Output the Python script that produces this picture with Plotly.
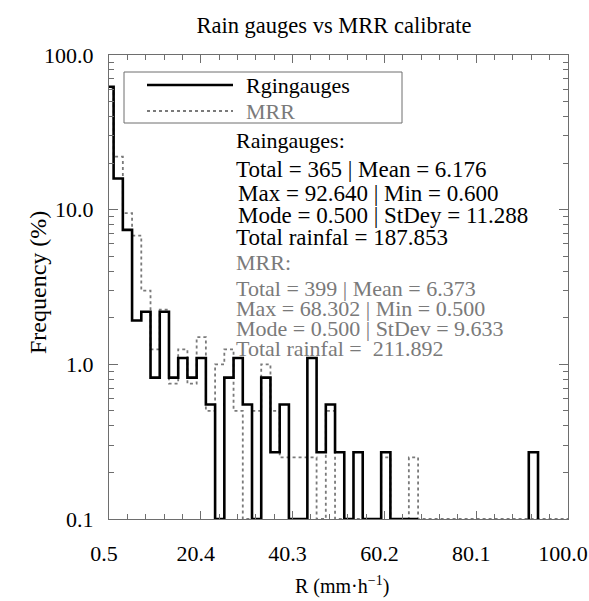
import numpy as np
import plotly.graph_objects as go

# Histogram bins: width 2 mm/h, centred on 0.5, 2.5, 4.5, ...
BIN_WIDTH = 2.0
bin_centers = [0.5 + 2.0 * k for k in range(51)]

# Frequency (%) per bin
raingauge_freq = [
    62.4, 15.9, 7.4, 1.92, 2.19, 0.82, 2.19, 0.82, 1.10, 0.82,
    1.10, 0.55, 0.0, 0.82, 1.10, 0.55, 0.0, 0.82, 0.27, 0.55,
    0.0, 0.0, 1.10, 0.27, 0.55, 0.27, 0.0, 0.27, 0.0, 0.0,
    0.27, 0.0, 0.0, 0.0, 0.0, 0.0, 0.0, 0.0, 0.0, 0.0,
    0.0, 0.0, 0.0, 0.0, 0.0, 0.0, 0.27, 0.0, 0.0, 0.0,
    0.0,
]
mrr_freq = [
    61.0, 22.0, 9.5, 6.8, 3.0, 1.25, 2.26, 0.75, 1.25, 0.75,
    1.50, 0.50, 1.00, 1.25, 0.50, 0.0, 0.50, 1.00, 0.50, 0.25,
    0.25, 0.25, 0.25, 0.0, 0.50, 0.0, 0.0, 0.0, 0.0, 0.0,
    0.25, 0.0, 0.0, 0.25, 0.0, 0.0, 0.0, 0.0, 0.0, 0.0,
    0.0, 0.0, 0.0, 0.0, 0.0, 0.0, 0.0, 0.0, 0.0, 0.0,
    0.0,
]

x_tick_vals = [0.5, 20.4, 40.3, 60.2, 80.1, 100.0]
x_tick_text = ["0.5", "20.4", "40.3", "60.2", "80.1", "100.0"]
y_tick_vals = [0.1, 1.0, 10.0, 100.0]
y_tick_text = ["0.1", "1.0", "10.0", "100.0"]

gauge_stats = [
    "Raingauges:",
    "Total = 365 | Mean = 6.176",
    "Max = 92.640 | Min = 0.600",
    "Mode = 0.500 | StDey = 11.288",
    "Total rainfal = 187.853",
]
mrr_stats = [
    "MRR:",
    "Total = 399 | Mean = 6.373",
    "Max = 68.302 | Min = 0.500",
    "Mode = 0.500 | StDev = 9.633",
    "Total rainfal =  211.892",
]

Y_FLOOR = 0.1
FONT = "Liberation Serif, Times New Roman, serif"
GRAY = "#7a7a7a"
AXIS_GRAY = "#6e6e6e"


def step_outline(centers, values, floor, keep_floor_until):
    """Outline of a histogram as a stepped line; empty bins sit on the floor."""
    xs, ys = [], []
    open_path = False
    last_right = None
    for c, v in zip(centers, values):
        left, right = c - BIN_WIDTH / 2, c + BIN_WIDTH / 2
        level = v if v > 0 else floor
        if v <= 0 and c > keep_floor_until:
            if open_path:
                xs += [last_right, None]
                ys += [floor, None]
                open_path = False
            continue
        if not open_path:
            xs.append(left)
            ys.append(floor)
            open_path = True
        xs += [left, right]
        ys += [level, level]
        last_right = right
    if open_path:
        xs.append(last_right)
        ys.append(floor)
    return xs, ys


mx, my = step_outline(bin_centers, mrr_freq, Y_FLOOR, 200)
gx, gy = step_outline(bin_centers, raingauge_freq, Y_FLOOR, 68)

fig = go.Figure()
fig.add_trace(go.Scatter(
    x=mx, y=my, mode="lines", name="MRR",
    line=dict(color=GRAY, width=1.8, dash="dot"),
    connectgaps=False, showlegend=False,
))
fig.add_trace(go.Scatter(
    x=gx, y=gy, mode="lines", name="Rgingauges",
    line=dict(color="black", width=2.6),
    connectgaps=False, showlegend=False,
))

# plot area in pixels
L, R, T, B = 109, 568, 55, 519
W, H = R - L, B - T


def px(x):
    return (x - L) / W


def py(y):
    return (B - y) / H


def label(x0, y0, text, size, color, **kw):
    opts = dict(xanchor="left", yanchor="middle")
    opts.update(kw)
    fig.add_annotation(x=px(x0), y=py(y0), xref="paper", yref="paper",
                       text=text, showarrow=False,
                       font=dict(family=FONT, size=size, color=color), **opts)


# legend box
fig.add_shape(type="rect", xref="paper", yref="paper",
              x0=px(124), x1=px(402), y0=py(123), y1=py(72),
              line=dict(color=AXIS_GRAY, width=1), fillcolor="white")
fig.add_shape(type="line", xref="paper", yref="paper",
              x0=px(147), x1=px(233), y0=py(85), y1=py(85),
              line=dict(color="black", width=2.6))
fig.add_shape(type="line", xref="paper", yref="paper",
              x0=px(147), x1=px(233), y0=py(111), y1=py(111),
              line=dict(color=GRAY, width=1.8, dash="dot"))
label(244, 85, "Rgingauges", 22, "black")
label(244, 111, "MRR", 22, GRAY)

# statistics block
gauge_rows = [(234, 140, 22), (234, 169, 23), (236, 193, 23), (236, 215, 23), (234, 237, 23)]
mrr_rows = [(234, 262), (234, 288), (234, 308), (234, 328), (234, 348)]
for text, (x0, y0, size) in zip(gauge_stats, gauge_rows):
    label(x0, y0, text, size, "black")
for text, (x0, y0) in zip(mrr_stats, mrr_rows):
    label(x0, y0, text, 22, GRAY)

# axis titles
label(38, 283, "Frequency (%)", 24, "black", xanchor="center", textangle=-90)
label(342, 585, "R (mm·h<sup>−1</sup>)", 20, "black", xanchor="center")

y_minor = [m * 10.0 ** e for e in (-1, 0, 1) for m in range(2, 10)]

fig.update_layout(
    width=589, height=601,
    margin=dict(l=L, r=589 - R, t=T, b=601 - B, autoexpand=False),
    paper_bgcolor="white", plot_bgcolor="white",
    font=dict(family=FONT, size=22, color="black"),
    title=dict(text="Rain gauges vs MRR calibrate", x=0.49, xref="paper",
               y=1 - 25 / 601, yanchor="middle",
               font=dict(family=FONT, size=22.5, color="black")),
    xaxis=dict(
        range=[0.5, 100.0], tickmode="array", tickvals=x_tick_vals,
        ticktext=x_tick_text, ticks="inside", ticklen=8, tickwidth=1,
        tickcolor=AXIS_GRAY, showline=True, linecolor=AXIS_GRAY, linewidth=1,
        mirror="allticks", showgrid=False, zeroline=False,
        ticklabelstandoff=15, ticklabelshift=-5, ticklabeloverflow="allow",
        minor=dict(ticks="inside", ticklen=5, tick0=0.5, dtick=3.98,
                   tickcolor=AXIS_GRAY, showgrid=False),
    ),
    yaxis=dict(
        type="log", range=[-1, 2], tickmode="array", tickvals=y_tick_vals,
        ticktext=y_tick_text, ticks="inside", ticklen=9, tickwidth=1,
        tickcolor=AXIS_GRAY, showline=True, linecolor=AXIS_GRAY, linewidth=1,
        mirror="allticks", showgrid=False, zeroline=False,
        ticklabelstandoff=10, ticklabeloverflow="allow",
        minor=dict(ticks="inside", ticklen=5, tickvals=y_minor,
                   tickcolor=AXIS_GRAY, showgrid=False),
    ),
)

fig.write_html("out.html")
